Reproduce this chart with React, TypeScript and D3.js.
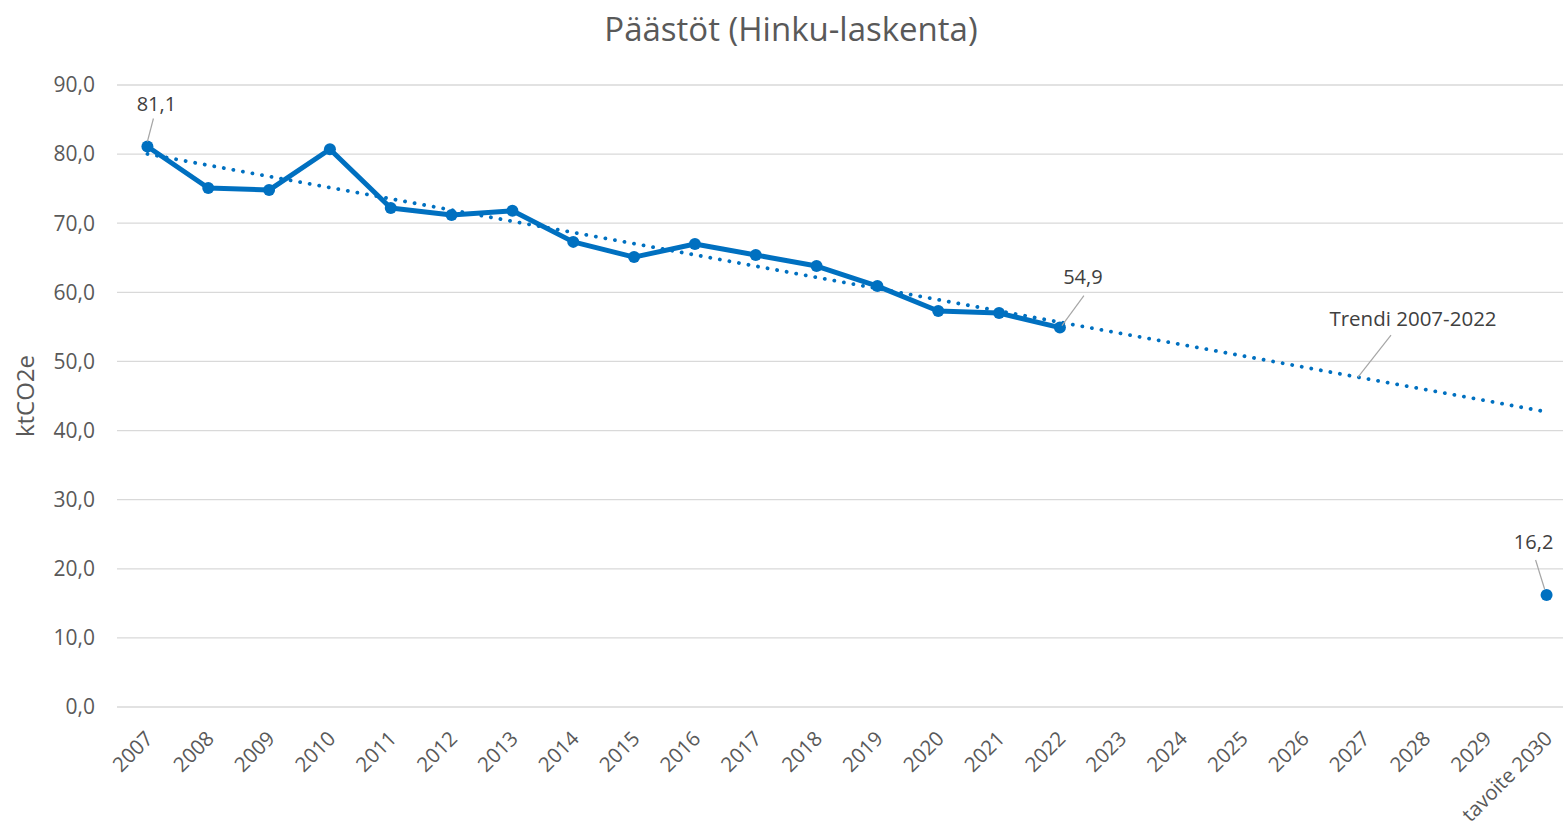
import React from "react";
import * as d3 from "d3";

const categories = ["2007", "2008", "2009", "2010", "2011", "2012", "2013", "2014", "2015", "2016", "2017", "2018", "2019", "2020", "2021", "2022", "2023", "2024", "2025", "2026", "2027", "2028", "2029", "tavoite 2030"];
const emissionYears = ["2007", "2008", "2009", "2010", "2011", "2012", "2013", "2014", "2015", "2016", "2017", "2018", "2019", "2020", "2021", "2022"];
const emissions = [81.1, 75.1, 74.8, 80.7, 72.2, 71.2, 71.8, 67.3, 65.1, 67.0, 65.4, 63.8, 60.9, 57.3, 57.0, 54.9];
const targetLabel = "tavoite 2030";
const targetValue = 16.2;
const yTicks = [0, 10, 20, 30, 40, 50, 60, 70, 80, 90];

const BLUE = "#0070C0";
const FONT = "'Open Sans', 'DejaVu Sans', sans-serif";

const App = () => {
  const width = 1563;
  const height = 829;
  const margin = { top: 85, bottom: 122, left: 117 };
  const gridRight = 1563;

  // the plot area runs a little past the right edge of the picture
  const x = d3.scalePoint<string>()
    .domain(categories)
    .range([margin.left, 1577])
    .padding(0.5);
  const y = d3.scaleLinear().domain([0, 90]).range([height - margin.bottom, margin.top]);

  const fmt = (v: number) => v.toFixed(1).replace(".", ",");

  // linear trend (least squares) over 2007-2022, extended to the last category
  const xs = emissions.map((_, i) => i);
  const mx = d3.mean(xs) as number;
  const my = d3.mean(emissions) as number;
  const slope = d3.sum(xs, (v, i) => (v - mx) * (emissions[i] - my)) / d3.sum(xs, v => (v - mx) ** 2);
  const intercept = my - slope * mx;
  const lastIdx = categories.length - 1;
  const trend: [number, number][] = [
    [x(categories[0]) as number, y(intercept)],
    [x(categories[lastIdx]) as number, y(intercept + slope * lastIdx)],
  ];

  const line = d3.line<number>()
    .x((_, i) => x(emissionYears[i]) as number)
    .y(d => y(d));

  const trendIdxLabel = 19.9; // where the trend callout points
  const tx = (x(categories[0]) as number) + trendIdxLabel * x.step();
  const ty = y(intercept + slope * trendIdxLabel);

  const first = { cx: x(emissionYears[0]) as number, cy: y(emissions[0]) };
  const last = { cx: x(emissionYears[emissionYears.length - 1]) as number, cy: y(emissions[emissions.length - 1]) };
  const target = { cx: x(targetLabel) as number, cy: y(targetValue) };

  return (
    <svg width={width} height={height} style={{ position: "absolute", left: 0, top: 0, background: "#fff" }} fontFamily={FONT}>
      <text x={791} y={41} textAnchor="middle" fontSize={33} fill="#595959">Päästöt (Hinku-laskenta)</text>

      {/* grid + y ticks */}
      {yTicks.map(t => (
        <g key={t}>
          <line x1={margin.left} x2={gridRight} y1={y(t)} y2={y(t)} stroke="#d9d9d9" strokeWidth={1.3} />
          <text x={95} y={y(t)} dy="0.35em" textAnchor="end" fontSize={21} fill="#595959">{fmt(t)}</text>
        </g>
      ))}

      <text transform={`translate(34,${(y(0) + y(90)) / 2}) rotate(-90)`} textAnchor="middle" fontSize={24} fill="#595959">ktCO2e</text>

      {/* x labels */}
      {categories.map(c => (
        <text key={c} transform={`translate(${(x(c) as number) + 7},${y(0) + 33}) rotate(-45)`} textAnchor="end" fontSize={20.5} fill="#595959">{c}</text>
      ))}

      {/* trend */}
      <line x1={trend[0][0]} y1={trend[0][1]} x2={trend[1][0]} y2={trend[1][1]} stroke={BLUE} strokeWidth={3.8} strokeLinecap="round" strokeDasharray="0.1 9.6" />

      {/* emissions */}
      <path d={line(emissions) || ""} fill="none" stroke={BLUE} strokeWidth={5} strokeLinejoin="round" />
      {emissions.map((v, i) => (
        <circle key={i} cx={x(emissionYears[i]) as number} cy={y(v)} r={6} fill={BLUE} />
      ))}
      <circle cx={target.cx} cy={target.cy} r={6} fill={BLUE} />

      {/* callouts */}
      <line x1={first.cx + 6} y1={first.cy - 28} x2={first.cx} y2={first.cy - 5} stroke="#a6a6a6" strokeWidth={1.2} />
      <text x={first.cx + 9} y={first.cy - 36} textAnchor="middle" fontSize={20} fill="#404040">{fmt(emissions[0])}</text>

      <line x1={last.cx + 24} y1={last.cy - 32} x2={last.cx + 2} y2={last.cy - 2} stroke="#a6a6a6" strokeWidth={1.2} />
      <text x={last.cx + 23} y={last.cy - 44} textAnchor="middle" fontSize={20} fill="#404040">{fmt(emissions[emissions.length - 1])}</text>

      <line x1={target.cx - 11} y1={target.cy - 35} x2={target.cx - 2} y2={target.cy - 6} stroke="#a6a6a6" strokeWidth={1.2} />
      <text x={target.cx - 13} y={target.cy - 46} textAnchor="middle" fontSize={20} fill="#404040">{fmt(targetValue)}</text>

      <line x1={tx + 33} y1={ty - 42} x2={tx} y2={ty} stroke="#a6a6a6" strokeWidth={1.2} />
      <text x={tx + 55} y={ty - 51} textAnchor="middle" fontSize={20.5} fill="#404040">Trendi 2007-2022</text>
    </svg>
  );
};

export default App;
